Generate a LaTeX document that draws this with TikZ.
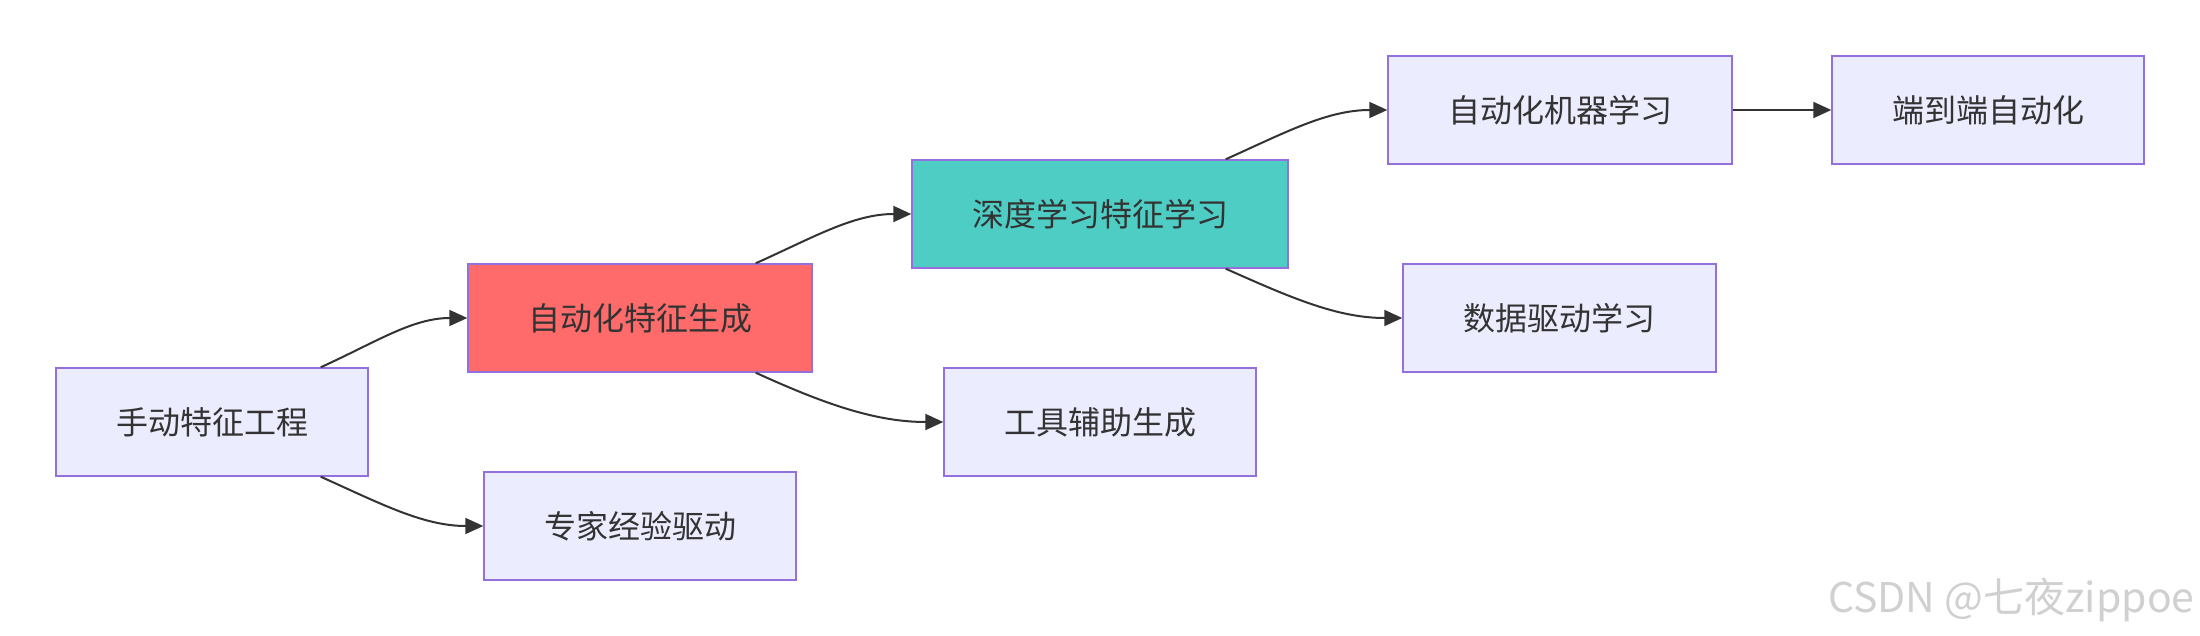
\documentclass[tikz,border=0pt]{standalone}
\usepackage{fontspec}
\newfontfamily\cjk{Noto Sans CJK SC}
\usetikzlibrary{arrows.meta,calc}
\definecolor{mfill}{HTML}{ECECFF}
\definecolor{mborder}{HTML}{9370DB}
\definecolor{mtext}{HTML}{333333}
\definecolor{medge}{HTML}{333333}
\definecolor{mred}{HTML}{FF6B6B}
\definecolor{mteal}{HTML}{4ECDC4}
\definecolor{wmark}{HTML}{D0D0D0}
\tikzset{
  box/.style={draw=mborder, fill=mfill, line width=0.7pt, minimum height=54pt,
    inner sep=0pt, text=mtext, font=\cjk\fontsize{16}{19}\selectfont},
  edge/.style={draw=medge, line width=1pt, -{Triangle[length=9pt,width=8pt]}},
  wm/.style={text=wmark, font=\cjk\fontsize{20.5}{24}\selectfont, inner sep=0pt}
}
\begin{document}
\begin{tikzpicture}[x=0.5pt,y=-0.5pt]
\useasboundingbox (0,0) rectangle (2200,636);
\node[box, minimum width=156pt] (A) at (212,422) {手动特征工程};
\node[box, minimum width=172pt, fill=mred] (B) at (640,318) {自动化特征生成};
\node[box, minimum width=156pt] (C) at (640,526) {专家经验驱动};
\node[box, minimum width=188pt, fill=mteal] (D) at (1100,214) {深度学习特征学习};
\node[box, minimum width=156pt] (E) at (1100,422) {工具辅助生成};
\node[box, minimum width=172pt] (F) at (1560,110) {自动化机器学习};
\node[box, minimum width=156.5pt] (G) at (1559.5,318) {数据驱动学习};
\node[box, minimum width=156pt] (H) at (1988,110) {端到端自动化};

\draw[edge] ([xshift=-24pt]A.north east) .. controls +(55,-25) and +(-55,0) .. (B.west);
\draw[edge] ([xshift=-24pt]A.south east) .. controls +(60,27) and +(-60,0) .. (C.west);
\draw[edge] ([xshift=-28.5pt]B.north east) .. controls +(58,-26) and +(-58,0) .. (D.west);
\draw[edge] ([xshift=-28.5pt]B.south east) .. controls +(68,31) and +(-68,0) .. (E.west);
\draw[edge] ([xshift=-31.5pt]D.north east) .. controls +(60,-27) and +(-60,0) .. (F.west);
\draw[edge] ([xshift=-31.5pt]D.south east) .. controls +(65,29) and +(-65,0) .. (G.west);
\draw[edge] (F.east) -- (H.west);

\node[wm, anchor=base east] (W) at (2195,612) {CSDN @七夜zippoe};
\end{tikzpicture}
\end{document}
